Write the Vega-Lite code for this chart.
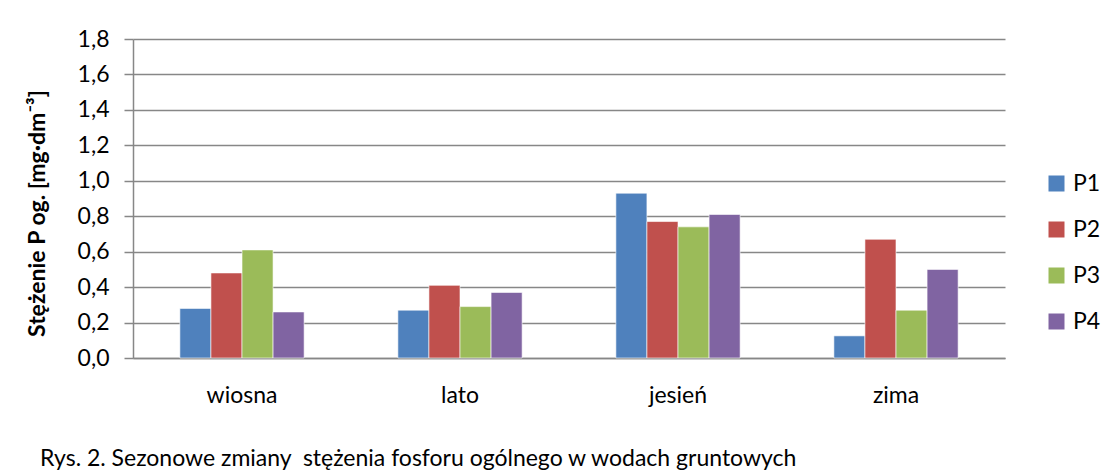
{
  "$schema": "https://vega.github.io/schema/vega-lite/v6.json",
  "autosize": {"type": "none"},
  "padding": {"left": 133, "top": 39, "right": 97, "bottom": 115},
  "width": 872,
  "height": 319,
  "background": "white",
  "data": {
    "values": [
      {"pora": "wiosna", "punkt": "P1", "stezenie": 0.28},
      {"pora": "wiosna", "punkt": "P2", "stezenie": 0.48},
      {"pora": "wiosna", "punkt": "P3", "stezenie": 0.61},
      {"pora": "wiosna", "punkt": "P4", "stezenie": 0.26},
      {"pora": "lato", "punkt": "P1", "stezenie": 0.27},
      {"pora": "lato", "punkt": "P2", "stezenie": 0.41},
      {"pora": "lato", "punkt": "P3", "stezenie": 0.29},
      {"pora": "lato", "punkt": "P4", "stezenie": 0.37},
      {"pora": "jesień", "punkt": "P1", "stezenie": 0.93},
      {"pora": "jesień", "punkt": "P2", "stezenie": 0.77},
      {"pora": "jesień", "punkt": "P3", "stezenie": 0.74},
      {"pora": "jesień", "punkt": "P4", "stezenie": 0.81},
      {"pora": "zima", "punkt": "P1", "stezenie": 0.125},
      {"pora": "zima", "punkt": "P2", "stezenie": 0.67},
      {"pora": "zima", "punkt": "P3", "stezenie": 0.27},
      {"pora": "zima", "punkt": "P4", "stezenie": 0.50}
    ]
  },
  "title": {
    "text": "Rys. 2. Sezonowe zmiany\u00a0 stężenia fosforu ogólnego w wodach gruntowych",
    "orient": "bottom",
    "anchor": "start",
    "frame": "group",
    "dx": -93,
    "offset": 41,
    "font": "Lato",
    "fontSize": 23,
    "fontWeight": "normal",
    "color": "#000000"
  },
  "mark": {"type": "bar", "stroke": "#ffffff", "strokeOpacity": 0.6, "strokeWidth": 1},
  "encoding": {
    "x": {
      "field": "pora",
      "type": "nominal",
      "sort": ["wiosna", "lato", "jesień", "zima"],
      "scale": {"paddingInner": 0.43, "paddingOuter": 0.215},
      "axis": {
        "title": null,
        "labelAngle": 0,
        "ticks": false,
        "labelPadding": 26,
        "domainColor": "#878787",
        "domainWidth": 1.5
      }
    },
    "xOffset": {
      "field": "punkt",
      "type": "nominal",
      "sort": ["P1", "P2", "P3", "P4"],
      "scale": {"paddingInner": 0, "paddingOuter": 0}
    },
    "y": {
      "field": "stezenie",
      "type": "quantitative",
      "scale": {"domain": [0, 1.8], "nice": false},
      "axis": {
        "title": "Stężenie P og. [mg·dm⁻³]",
        "values": [0, 0.2, 0.4, 0.6, 0.8, 1.0, 1.2, 1.4, 1.6, 1.8],
        "labelExpr": "replace(format(datum.value, '.1f'), '.', ',')",
        "tickSize": 9,
        "tickColor": "#878787",
        "tickWidth": 1.5,
        "labelPadding": 15,
        "titlePadding": 28,
        "titleY": 174,
        "titleFontWeight": "bold",
        "domainColor": "#878787",
        "domainWidth": 1.5,
        "grid": true,
        "gridColor": "#878787",
        "gridWidth": 1.5
      }
    },
    "color": {
      "field": "punkt",
      "type": "nominal",
      "scale": {
        "domain": ["P1", "P2", "P3", "P4"],
        "range": ["#4F81BD", "#C0504D", "#9BBB59", "#8064A2"]
      },
      "legend": {
        "title": null,
        "orient": "none",
        "legendX": 912,
        "legendY": 133,
        "padding": 0,
        "symbolType": "square",
        "symbolSize": 256,
        "symbolStrokeWidth": 0,
        "symbolOpacity": 1,
        "labelFontSize": 23,
        "labelOffset": 5,
        "rowPadding": 22
      }
    }
  },
  "config": {
    "font": "Lato",
    "view": {"stroke": null},
    "axis": {
      "labelFont": "Lato",
      "labelFontSize": 23,
      "labelColor": "#000000",
      "titleFont": "Lato",
      "titleFontSize": 23,
      "titleColor": "#000000"
    },
    "legend": {
      "labelFont": "Lato",
      "labelColor": "#000000"
    }
  }
}
